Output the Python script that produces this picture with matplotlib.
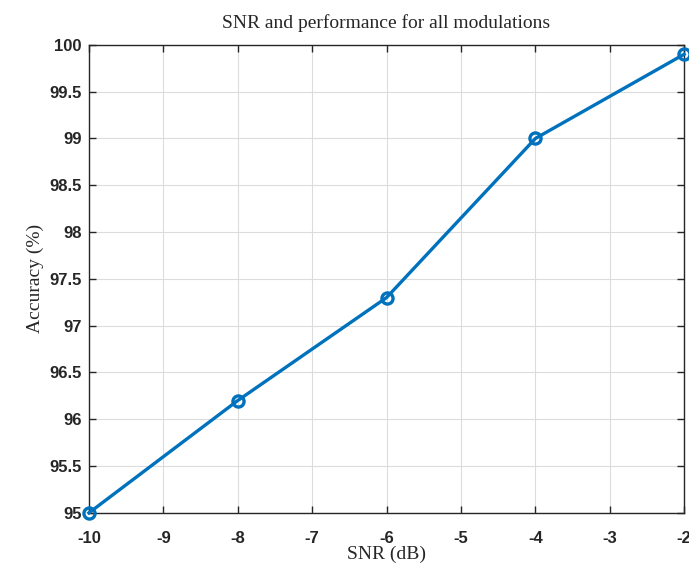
import matplotlib.pyplot as plt

snr = [-10, -8, -6, -4, -2]
accuracy = [95.0, 96.2, 97.3, 99.0, 99.9]
xticks = [-10, -9, -8, -7, -6, -5, -4, -3, -2]
yticks = [95, 95.5, 96, 96.5, 97, 97.5, 98, 98.5, 99, 99.5, 100]
ytick_labels = ['95', '95.5', '96', '96.5', '97', '97.5', '98', '98.5', '99', '99.5', '100']

fig = plt.figure(figsize=(6.89, 5.68), dpi=100)
ax = fig.add_axes([0.129, 0.097, 0.864, 0.824])

ax.plot(snr, accuracy, '-o', color='#0072BD', linewidth=2.4,
        markersize=8, markerfacecolor='none', markeredgewidth=2.4, clip_on=False, zorder=3)

ax.set_xlim(-10, -2)
ax.set_ylim(95, 100)
ax.set_xticks(xticks)
ax.set_xticklabels([str(t) for t in xticks])
ax.set_yticks(yticks)
ax.set_yticklabels(ytick_labels)

for lab in ax.get_xticklabels() + ax.get_yticklabels():
    lab.set_family('Liberation Sans')
    lab.set_fontweight('bold')
    lab.set_fontsize(12)

ax.tick_params(direction='in', length=5, width=1, top=True, right=True, colors='#262626')
ax.tick_params(axis='x', pad=13)
ax.tick_params(axis='y', pad=5)
ax.grid(True, color='#dcdcdc', linewidth=0.8)
ax.set_axisbelow(True)
for s in ax.spines.values():
    s.set_color('#262626')
    s.set_linewidth(1)

ax.set_title('SNR and performance for all modulations', family='Liberation Serif', fontsize=14, color='#262626', pad=12)
ax.set_xlabel('SNR (dB)', family='Liberation Serif', fontsize=14, color='#262626', labelpad=0)
ax.set_ylabel('Accuracy (%)', family='Liberation Serif', fontsize=14, color='#262626', labelpad=4)

plt.savefig('out.png')
